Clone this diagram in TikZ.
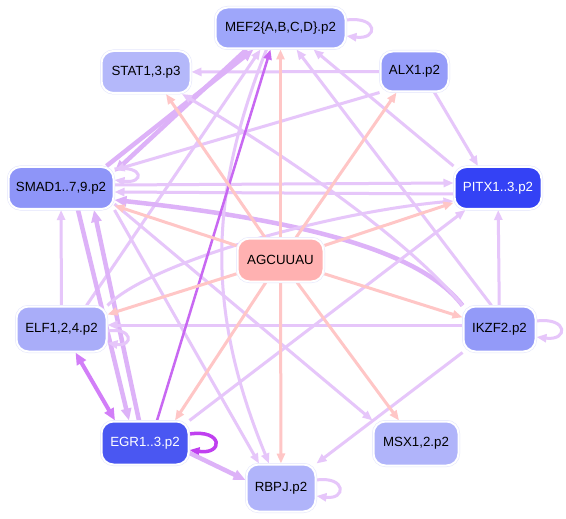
\documentclass[tikz,border=0pt]{standalone}
\usepackage{fontspec}
\setmainfont{Liberation Sans}
\usetikzlibrary{arrows.meta,calc}
\pgfdeclarelayer{bg}
\pgfsetlayers{bg,main}
\definecolor{lp}{HTML}{E6C6FA}
\definecolor{tp}{HTML}{DDB2F8}
\definecolor{dp}{HTML}{C868F2}
\definecolor{dpb}{HTML}{D27EF8}
\definecolor{dpc}{HTML}{C040F0}
\definecolor{pk}{HTML}{FFC6C6}
\definecolor{bord}{HTML}{E2E4FC}
\definecolor{cmef}{HTML}{9EA6FA}
\definecolor{cstat}{HTML}{B4B8FA}
\definecolor{calx}{HTML}{959CF9}
\definecolor{csmad}{HTML}{8E95F8}
\definecolor{cpitx}{HTML}{3442F5}
\definecolor{cagc}{HTML}{FFB1B1}
\definecolor{celf}{HTML}{A9ADF9}
\definecolor{cikzf}{HTML}{939AF8}
\definecolor{cegr}{HTML}{4A57F2}
\definecolor{cmsx}{HTML}{B0B4FA}
\definecolor{crbpj}{HTML}{B0B4FA}
\tikzset{
  nd/.style={rounded corners=12pt, inner sep=0pt, font=\fontsize{13.3}{16}\selectfont,
    preaction={draw=bord,line width=3pt}, draw=white, line width=2pt, text=black},
  e/.style={draw=lp, line width=3pt, -{Triangle[length=10pt,width=8pt]}},
  et/.style={draw=tp, line width=4.5pt, -{Triangle[length=12pt,width=10pt]}},
  ep/.style={draw=pk, line width=3pt, -{Triangle[length=10pt,width=8pt]}},
}
\begin{document}
\begin{tikzpicture}[x=1pt,y=1pt]
\useasboundingbox (0,0) rectangle (566,-519);
\node[nd, fill=cmef, minimum width=130pt, minimum height=41pt] (mef) at (280.5,-28) {MEF2\{A,B,C,D\}.p2};
\node[nd, fill=cstat, minimum width=89pt, minimum height=42pt] (stat) at (146,-72) {STAT1,3.p3};
\node[nd, fill=calx, minimum width=68pt, minimum height=40pt] (alx) at (414.5,-71.5) {ALX1.p2};
\node[nd, fill=csmad, minimum width=105pt, minimum height=42pt] (smad) at (61,-188) {SMAD1..7,9.p2};
\node[nd, fill=cpitx, text=white, minimum width=87pt, minimum height=42pt] (pitx) at (498,-188) {PITX1..3.p2};
\node[nd, fill=cagc, minimum width=86pt, minimum height=43pt] (agc) at (280.5,-260) {AGCUUAU};
\node[nd, fill=celf, minimum width=90pt, minimum height=45pt] (elf) at (61.5,-329) {ELF1,2,4.p2};
\node[nd, fill=cikzf, minimum width=72pt, minimum height=45pt] (ikzf) at (499.5,-329) {IKZF2.p2};
\node[nd, fill=cegr, text=white, minimum width=87pt, minimum height=43pt] (egr) at (145,-443) {EGR1..3.p2};
\node[nd, fill=cmsx, minimum width=85pt, minimum height=44pt] (msx) at (416,-443.5) {MSX1,2.p2};
\node[nd, fill=crbpj, minimum width=69pt, minimum height=47pt] (rbpj) at (281,-488) {RBPJ.p2};
\begin{pgfonlayer}{bg}
\fill[white] (0,0) rectangle (566,-519);
% purple edges
\draw[e] (alx) -- (stat);
\draw[et] ([xshift=-8]smad.north east) -- ([xshift=-27]mef.south);
\draw[et] ([xshift=-34]mef.south) -- ([yshift=-6]smad.north east);
\draw[e] ([xshift=25]elf.north) -- ([xshift=-20]mef.south);
\draw[e] ([xshift=-8]ikzf.north) -- ([xshift=16]mef.south);
\draw[e] (pitx.north west) -- ([xshift=33]mef.south);
\draw[e] ([yshift=8]mef.east) .. controls +(32,4) and +(32,-4) .. ([yshift=-8]mef.east);
\draw[e] ([yshift=3]smad.east) -- ([yshift=5]pitx.west);
\draw[e] ([yshift=19]smad.east) .. controls +(30,4) and +(30,-4) .. ([yshift=8]smad.east);
\draw[e] ([yshift=-6]pitx.west) -- ([yshift=-4]smad.east);
\draw[et] (ikzf.north west) .. controls (420,-250) and (300,-220) .. ([yshift=-12]smad.east);
\draw[e] (elf) -- (smad);
\draw[et] ([xshift=17]smad.south) -- ([xshift=-16]egr.north);
\draw[et] ([xshift=-6]egr.north) -- ([xshift=33]smad.south);
\draw[draw=dpb, line width=4pt, {Triangle[length=12pt,width=10pt]}-{Triangle[length=12pt,width=10pt]}] ([xshift=-30]egr.north) -- ([xshift=14]elf.south);
\draw[e, draw=dpc, line width=3.5pt] ([yshift=9]egr.east) .. controls +(34,5) and +(34,-5) .. ([yshift=-7]egr.east);
\draw[et] ([yshift=-10]egr.east) -- ([yshift=8]rbpj.west);
\draw[e] ([yshift=8]rbpj.east) .. controls +(30,4) and +(30,-4) .. ([yshift=-8]rbpj.east);
\draw[e] (ikzf.south west) -- (rbpj.north east);
\draw[e] (ikzf) -- (pitx);
\draw[e] ([yshift=8]ikzf.east) .. controls +(32,4) and +(32,-4) .. ([yshift=-8]ikzf.east);
\draw[e] ([yshift=4]ikzf.west) -- ([yshift=4]elf.east);
\draw[e] ([yshift=-2]elf.east) .. controls +(26,4) and +(26,-4) .. ([yshift=-14]elf.east);
\draw[e] (elf.north east) .. controls (150,-262) and (330,-212) .. ([yshift=-13]pitx.west);
\draw[e] (ikzf.north west) .. controls (400,-230) and (260,-140) .. ([xshift=36]stat.south);
\draw[e] (alx.south west) -- ([yshift=-4]smad.north east);
\draw[e] ([xshift=-14]mef.south) to[bend right=22] ([xshift=-12]rbpj.north);
\draw[e] (smad.south east) -- ([xshift=-22]rbpj.north);
\draw[e] ([yshift=-16]smad.east) -- (msx.north west);
\draw[e] (egr.north east) -- ([xshift=12]pitx.south west);
\draw[e] ([xshift=20]alx.south) -- ([xshift=-20]pitx.north);
\draw[e, draw=dp, line width=2.5pt] ([xshift=12]egr.north) -- ([xshift=-10]mef.south);
% pink edges
\draw[ep] (agc) -- (mef);
\draw[ep] (agc) -- ([xshift=20]stat.south);
\draw[ep] (agc) -- ([xshift=-18]alx.south);
\draw[ep] (agc) -- (smad);
\draw[ep] (agc) -- (pitx);
\draw[ep] (agc) -- (elf);
\draw[ep] (agc) -- (ikzf);
\draw[ep] (agc) -- ([xshift=30]egr.north);
\draw[ep] (agc) -- (msx);
\draw[ep] (agc) -- (rbpj);
\end{pgfonlayer}
\end{tikzpicture}
\end{document}
